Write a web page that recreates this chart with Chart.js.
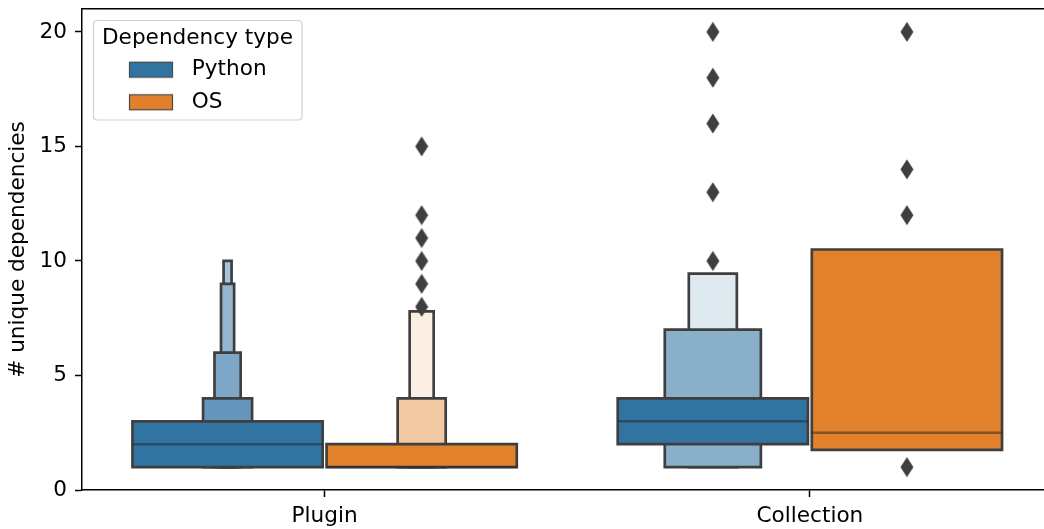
<!DOCTYPE html>
<html>
<head>
<meta charset="utf-8">
<script src="https://cdn.jsdelivr.net/npm/chart.js@4.4.1/dist/chart.umd.min.js"></script>
<style>
html, body { margin: 0; padding: 0; background: #ffffff; overflow: hidden; }
#wrap { position: relative; width: 1060px; height: 529px; }
</style>
</head>
<body>
<div id="wrap"><canvas id="chart"></canvas></div>
<script>
// ---------------- data ----------------
const categories = ['Plugin', 'Collection'];
const seriesNames = ['Python', 'OS'];
const yTicks = [0, 5, 10, 15, 20];

// letter-value boxes, innermost (widest) level first: lower / upper bounds
const pluginPythonLower = [1, 1, 1, 1, 1];
const pluginPythonUpper = [3, 4, 6, 9, 10];
const pluginPythonMedian = 2;
const pluginPythonOutliers = [];

const pluginOSLower = [1, 1, 1];
const pluginOSUpper = [2, 4, 7.8];
const pluginOSMedian = 1;
const pluginOSOutliers = [8, 9, 10, 11, 12, 15];

const collectionPythonLower = [2, 1, 1];
const collectionPythonUpper = [4, 7, 9.45];
const collectionPythonMedian = 3;
const collectionPythonOutliers = [10, 13, 16, 18, 20];

const collectionOSLower = [1.75];
const collectionOSUpper = [10.5];
const collectionOSMedian = 2.5;
const collectionOSOutliers = [1, 12, 14, 20];

// ---------------- styles ----------------
const hueOffsets = [-0.2, 0.2];
const pluginPythonWidths = [0.392, 0.101, 0.054, 0.027, 0.0165];
const pluginOSWidths = [0.392, 0.099, 0.0495];
const collectionPythonWidths = [0.392, 0.198, 0.099];
const collectionOSWidths = [0.392];

const pluginPythonColors = ['#3274a1', '#6597bd', '#7ea6c6', '#94b6d2', '#a8c4db'];
const pluginOSColors = ['#e1812c', '#f2c8a2', '#fbeee2'];
const collectionPythonColors = ['#3274a1', '#8aafc9', '#dfe9f0'];
const collectionOSColors = ['#e1812c'];
const seriesColors = ['#3274a1', '#e1812c'];
const EDGE = '#3f3f3f';
const FONT = 21.6;

Chart.defaults.font.family = "'DejaVu Sans', sans-serif";
Chart.defaults.font.size = FONT;
Chart.defaults.color = '#000000';

function makeDiamond() {
  const c = document.createElement('canvas');
  c.width = 14; c.height = 21;
  const g = c.getContext('2d');
  g.fillStyle = EDGE;
  g.beginPath();
  g.moveTo(7, 0.5); g.lineTo(13.5, 10.5); g.lineTo(7, 20.5); g.lineTo(0.5, 10.5);
  g.closePath(); g.fill();
  return c;
}
function makeSwatch(color) {
  const c = document.createElement('canvas');
  c.width = 77; c.height = 18;
  const g = c.getContext('2d');
  g.fillStyle = color;
  g.fillRect(25, 1, 44, 16);
  g.strokeStyle = '#4a4a4a';
  g.lineWidth = 1.2;
  g.strokeRect(25.5, 1.5, 43, 15);
  return c;
}
const diamond = makeDiamond();
const swatches = seriesColors.map(makeSwatch);

const groups = [
  {cat: 0, hue: 0, lower: pluginPythonLower, upper: pluginPythonUpper, median: pluginPythonMedian, outliers: pluginPythonOutliers, widths: pluginPythonWidths, colors: pluginPythonColors},
  {cat: 0, hue: 1, lower: pluginOSLower, upper: pluginOSUpper, median: pluginOSMedian, outliers: pluginOSOutliers, widths: pluginOSWidths, colors: pluginOSColors},
  {cat: 1, hue: 0, lower: collectionPythonLower, upper: collectionPythonUpper, median: collectionPythonMedian, outliers: collectionPythonOutliers, widths: collectionPythonWidths, colors: collectionPythonColors},
  {cat: 1, hue: 1, lower: collectionOSLower, upper: collectionOSUpper, median: collectionOSMedian, outliers: collectionOSOutliers, widths: collectionOSWidths, colors: collectionOSColors}
];

const datasets = [];
groups.forEach(g => {
  const xc = g.cat + hueOffsets[g.hue];
  const name = seriesNames[g.hue] + ' / ' + categories[g.cat];
  g.lower.forEach((lo, i) => {
    const hi = g.upper[i];
    const hw = g.widths[i] / 2;
    datasets.push({
      type: 'line',
      label: name + ' level ' + (i + 1),
      xAxisID: 'x', yAxisID: 'y',
      data: [
        {x: xc, y: lo}, {x: xc + hw, y: lo}, {x: xc + hw, y: hi},
        {x: xc - hw, y: hi}, {x: xc - hw, y: lo}, {x: xc, y: lo}
      ],
      fill: 'shape',
      backgroundColor: g.colors[i],
      borderColor: EDGE,
      borderWidth: 2.7,
      borderJoinStyle: 'miter',
      tension: 0,
      pointRadius: 0,
      pointHoverRadius: 0,
      order: 10 + i
    });
  });
  const mw = g.widths[0] / 2;
  datasets.push({
    type: 'line',
    label: name + ' median',
    xAxisID: 'x', yAxisID: 'y',
    data: [{x: xc - mw, y: g.median}, {x: xc + mw, y: g.median}],
    borderColor: 'rgba(38,38,38,0.5)',
    borderWidth: 2.4,
    fill: false,
    pointRadius: 0,
    pointHoverRadius: 0,
    order: 2
  });
  if (g.outliers.length) {
    datasets.push({
      type: 'scatter',
      label: name + ' outliers',
      xAxisID: 'x', yAxisID: 'y',
      data: g.outliers.map(v => ({x: xc, y: v})),
      pointStyle: diamond,
      pointRadius: 6,
      pointHoverRadius: 6,
      order: 0
    });
  }
});

const legendPlacer = {
  id: 'legendPlacer',
  afterLayout(chart) {
    const L = chart.legend;
    if (!L) return;
    L.left = 93; L.top = 20; L.right = 302; L.bottom = 160;
    L.width = 209; L.height = 140;
  },
  beforeDraw(chart) {
    const ctx = chart.ctx;
    const x = 93.5, y = 20.5, w = 208.5, h = 99.5, r = 4;
    ctx.save();
    ctx.beginPath();
    ctx.moveTo(x + r, y);
    ctx.lineTo(x + w - r, y); ctx.quadraticCurveTo(x + w, y, x + w, y + r);
    ctx.lineTo(x + w, y + h - r); ctx.quadraticCurveTo(x + w, y + h, x + w - r, y + h);
    ctx.lineTo(x + r, y + h); ctx.quadraticCurveTo(x, y + h, x, y + h - r);
    ctx.lineTo(x, y + r); ctx.quadraticCurveTo(x, y, x + r, y);
    ctx.closePath();
    ctx.fillStyle = 'rgba(255,255,255,0.8)';
    ctx.fill();
    ctx.strokeStyle = '#d0d0d0';
    ctx.lineWidth = 1.2;
    ctx.stroke();
    ctx.restore();
  }
};

new Chart(document.getElementById('chart'), {
  type: 'line',
  data: {datasets},
  plugins: [legendPlacer],
  options: {
    responsive: true,
    maintainAspectRatio: false,
    devicePixelRatio: 1,
    animation: false,
    events: [],
    layout: {padding: {left: 0, top: 9, right: 7.5, bottom: 0}},
    scales: {
      x: {
        type: 'linear',
        position: 'bottom',
        min: -0.5,
        max: 1.5,
        afterBuildTicks: s => { s.ticks = categories.map((_, i) => ({value: i})); },
        afterFit: s => { s.height = 39; s.paddingLeft = 0; s.paddingRight = 0; },
        ticks: {
          callback: v => categories[v] ?? '',
          padding: 6,
          maxRotation: 0,
          autoSkip: false,
          color: '#000',
          font: {size: FONT}
        },
        grid: {display: true, drawOnChartArea: false, drawTicks: true, tickLength: 7, tickColor: '#000', tickWidth: 1.5},
        border: {display: true, color: '#000', width: 1.5}
      },
      xTop: {
        type: 'linear',
        position: 'top',
        axis: 'x',
        min: -0.5,
        max: 1.5,
        ticks: {display: false},
        grid: {display: false},
        border: {display: true, color: '#000', width: 1.5},
        afterFit: s => { s.height = 0; s.paddingLeft = 0; s.paddingRight = 0; }
      },
      y: {
        type: 'linear',
        position: 'left',
        min: 0,
        max: 21,
        afterBuildTicks: s => { s.ticks = yTicks.map(v => ({value: v})); },
        afterFit: s => { s.width = 82; s.paddingTop = 0; s.paddingBottom = 0; },
        ticks: {padding: 8, color: '#000', font: {size: FONT}},
        grid: {display: true, drawOnChartArea: false, drawTicks: true, tickLength: 7, tickColor: '#000', tickWidth: 1.5},
        border: {display: true, color: '#000', width: 1.5},
        title: {
          display: true,
          text: '# unique dependencies',
          color: '#000',
          font: {size: FONT},
          padding: {top: 5, bottom: 0}
        }
      }
    },
    plugins: {
      tooltip: {enabled: false},
      legend: {
        display: true,
        position: 'chartArea',
        align: 'start',
        title: {
          display: true,
          text: 'Dependency type',
          position: 'center',
          color: '#000',
          font: {size: FONT, lineHeight: 0.8},
          padding: {top: 7.2, bottom: 3.4}
        },
        labels: {
          usePointStyle: true,
          pointStyleWidth: 77,
          padding: 11,
          color: '#000',
          font: {size: FONT},
          generateLabels: () => seriesNames.map((n, i) => ({
            text: n,
            fillStyle: seriesColors[i],
            strokeStyle: EDGE,
            lineWidth: 0,
            pointStyle: swatches[i],
            hidden: false,
            fontColor: '#000',
            datasetIndex: 0
          }))
        }
      }
    }
  }
});
</script>
</body>
</html>
